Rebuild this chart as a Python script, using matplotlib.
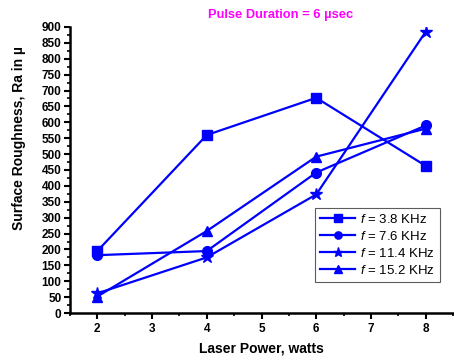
import matplotlib
matplotlib.use("Agg")
import matplotlib.pyplot as plt
from matplotlib.ticker import MultipleLocator

plt.rcParams['font.family'] = ['Liberation Sans', 'DejaVu Sans']
plt.rcParams['mathtext.fontset'] = 'custom'
plt.rcParams['mathtext.it'] = 'Liberation Sans:italic'

power = [2, 4, 6, 8]
freq_labels = ['3.8', '7.6', '11.4', '15.2']
ra_38 = [195, 560, 677, 463]
ra_76 = [182, 195, 442, 590]
ra_114 = [62, 175, 373, 885]
ra_152 = [52, 258, 492, 580]

series = [ra_38, ra_76, ra_114, ra_152]
markers = ['s', 'o', '*', '^']
sizes = [7, 7, 9, 7]

fig = plt.figure(figsize=(4.54, 3.64), dpi=100)
ax = fig.add_axes([0.154, 0.14, 0.844, 0.786])

for vals, mk, ms, fl in zip(series, markers, sizes, freq_labels):
    ax.plot(power, vals, color='#0000ff', marker=mk, markersize=ms, lw=1.6,
            label=r'$f$ = ' + fl + ' KHz')

ax.set_xlim(1.5, 8.5)
ax.set_ylim(0, 900)
ax.xaxis.set_major_locator(MultipleLocator(1))
ax.xaxis.set_minor_locator(MultipleLocator(0.5))
ax.yaxis.set_major_locator(MultipleLocator(50))
ax.yaxis.set_minor_locator(MultipleLocator(25))
ax.set_xticks([2, 3, 4, 5, 6, 7, 8])

for side in ['top', 'right']:
    ax.spines[side].set_visible(False)
for side in ['left', 'bottom']:
    ax.spines[side].set_linewidth(1.8)

ax.tick_params(which='major', direction='out', length=4, width=1.5, labelsize=8.5)
ax.tick_params(which='minor', direction='out', length=2.5, width=1.2)
for lbl in ax.get_xticklabels() + ax.get_yticklabels():
    lbl.set_fontweight('bold')
ax.tick_params(axis='y', pad=2)

ax.set_xlabel('Laser Power, watts', fontsize=10, fontweight='bold')
ax.set_ylabel('Surface Roughness, Ra in µ', fontsize=10, fontweight='bold')
ax.xaxis.set_label_coords(0.5, -0.1)
ax.yaxis.set_label_coords(-0.115, 0.612)

fig.text(0.617, 0.958, 'Pulse Duration = 6 µsec', color='#ff00ff', fontsize=9.3,
         fontweight='bold', ha='center', va='center')

leg = ax.legend(loc='lower left', bbox_to_anchor=(0.64, 0.108), fontsize=9.5,
                frameon=True, fancybox=False, edgecolor='#333333',
                handlelength=2.6, borderpad=0.4, labelspacing=0.3,
                handletextpad=0.4, borderaxespad=0, markerscale=0.75)
leg.get_frame().set_linewidth(0.8)

fig.savefig('out.png', dpi=100)
